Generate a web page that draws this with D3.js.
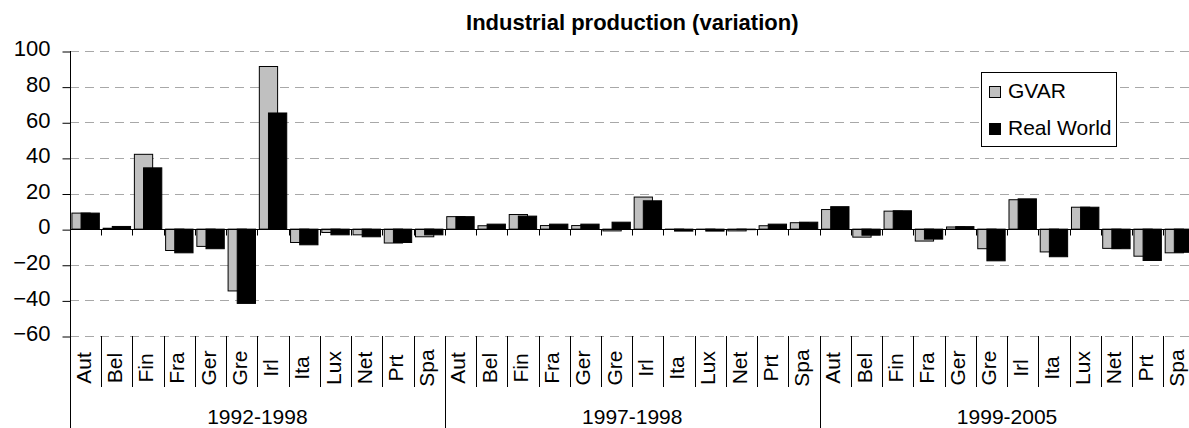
<!DOCTYPE html>
<html>
<head>
<meta charset="utf-8">
<script src="https://cdn.jsdelivr.net/npm/d3@7"></script>
<style>
  html, body { margin: 0; padding: 0; background: #fff; }
  svg { display: block; font-family: "Liberation Sans", Arial, sans-serif; }
</style>
</head>
<body>
<svg id="chart" width="1189" height="428"></svg>
<script>
// ---- data ----
const countries = ["Aut","Bel","Fin","Fra","Ger","Gre","Irl","Ita","Lux","Net","Prt","Spa"];
const periods = ["1992-1998","1997-1998","1999-2005"];
const seriesNames = ["GVAR","Real World"];
const gvar1992 = [9, 0.5, 42, -12, -9.7, -34.7, 91.3, -7.5, -1.9, -3.2, -7.8, -4.3];
const rw1992   = [9, 1.5, 34.4, -13.3, -11, -41.7, 65.2, -8.8, -3.2, -4.3, -7.5, -3.2];
const gvar1997 = [7, 1.9, 8.2, 2, 2, -1, 18, -0.2, -0.2, -1, 1.9, 3.6];
const rw1997   = [7, 2.8, 7.3, 2.8, 2.8, 3.9, 15.9, -1.1, -1.1, -0.3, 2.8, 3.9];
const gvar1999 = [11, -4.5, 10.1, -6.7, 1.2, -11, 16.5, -12.8, 12.3, -10.8, -15.2, -13.3];
const rw1999   = [12.6, -3.4, 10.3, -5.6, 1.4, -17.8, 17, -15.5, 12.3, -11, -17.6, -13];
const yTicks = [-60, -40, -20, 0, 20, 40, 60, 80, 100];
const title = "Industrial production (variation)";

(function () {
const gvarByPeriod = [gvar1992, gvar1997, gvar1999];
const rwByPeriod = [rw1992, rw1997, rw1999];

// flatten
const rows = [];
periods.forEach((p, pi) => {
  countries.forEach((c, ci) => {
    rows.push({ key: pi + "-" + ci, period: p, pi, country: c, gvar: gvarByPeriod[pi][ci], rw: rwByPeriod[pi][ci] });
  });
});

// ---- layout ----
const svg = d3.select("#chart");
const pLeft = 70, pRight = 1194.5, pTop = 51, pBottom = 336;
const x = d3.scaleBand().domain(rows.map(d => d.key)).range([pLeft, pRight]).paddingInner(0).paddingOuter(0);
const y = d3.scaleLinear().domain([-60, 100]).range([pBottom, pTop]);
const step = x.step();
const bw = step * 0.585;
const grayOff = (step - 1.5 * bw) / 2;
const grayColor = "#c0c0c0";

// gridlines
svg.append("g").selectAll("line").data(yTicks.filter(t => t !== 0)).join("line")
  .attr("x1", pLeft).attr("x2", 1189)
  .attr("y1", d => Math.round(y(d)) + 0.5).attr("y2", d => Math.round(y(d)) + 0.5)
  .attr("stroke", "#a8a8a8").attr("stroke-width", 1).attr("stroke-dasharray", "9,6");

// y axis
const yAxis = d3.axisLeft(y).tickValues(yTicks).tickSize(8).tickPadding(12).tickFormat(d3.format("d"));
const yg = svg.append("g").attr("transform", `translate(${pLeft + 0.5},0)`).call(yAxis);
yg.select(".domain").remove();
yg.selectAll(".tick line").attr("stroke", "#000").attr("transform", "translate(0,0.5)");
yg.selectAll(".tick text").attr("font-size", 22).attr("fill", "#000").attr("dy", "0.22em")
  .attr("font-family", "'Liberation Sans', Arial, sans-serif");

// bars
const bars = svg.append("g");
bars.selectAll("rect.g").data(rows).join("rect").attr("class", "g")
  .attr("x", d => x(d.key) + grayOff)
  .attr("width", bw)
  .attr("y", d => Math.min(y(d.gvar), y(0)))
  .attr("height", d => Math.abs(y(d.gvar) - y(0)))
  .attr("fill", grayColor).attr("stroke", "#000").attr("stroke-width", 1);
bars.selectAll("rect.r").data(rows).join("rect").attr("class", "r")
  .attr("x", d => x(d.key) + grayOff + bw / 2)
  .attr("width", bw)
  .attr("y", d => Math.min(y(d.rw), y(0)))
  .attr("height", d => Math.abs(y(d.rw) - y(0)))
  .attr("fill", "#000").attr("stroke", "#000").attr("stroke-width", 1);

// zero axis line + ticks
const y0 = Math.round(y(0)) + 0.5;
svg.append("line").attr("x1", pLeft).attr("x2", 1189).attr("y1", y0).attr("y2", y0)
  .attr("stroke", "#000").attr("stroke-width", 1);
const boundaries = d3.range(1, rows.length).map(i => x(rows[i].key));
svg.append("g").selectAll("line").data(boundaries).join("line")
  .attr("x1", d => Math.round(d) + 0.5).attr("x2", d => Math.round(d) + 0.5)
  .attr("y1", y0).attr("y2", y0 + 6)
  .attr("stroke", "#000");

// vertical axis line (full height)
svg.append("line").attr("x1", pLeft + 0.5).attr("x2", pLeft + 0.5).attr("y1", pTop).attr("y2", 428)
  .attr("stroke", "#000");

// category separators
svg.append("g").selectAll("line").data(d3.range(1, rows.length)).join("line")
  .attr("x1", i => Math.round(x(rows[i].key)) + 0.5).attr("x2", i => Math.round(x(rows[i].key)) + 0.5)
  .attr("y1", pBottom).attr("y2", i => (i % countries.length === 0) ? 428 : 387)
  .attr("stroke", "#000");

// category labels
svg.append("g").selectAll("text").data(rows).join("text")
  .attr("transform", d => `translate(${x(d.key) + step / 2 + 5},368) rotate(-90)`)
  .attr("text-anchor", "middle").attr("font-size", 21).attr("fill", "#000")
  .text(d => d.country);

// period labels
svg.append("g").selectAll("text").data(periods).join("text")
  .attr("x", (p, pi) => (x(pi + "-0") + x(pi + "-" + (countries.length - 1)) + step) / 2)
  .attr("y", 424).attr("text-anchor", "middle").attr("font-size", 21).attr("fill", "#000")
  .text(p => p);

// title
svg.append("text").attr("x", (pLeft + pRight) / 2).attr("y", 30).attr("text-anchor", "middle")
  .attr("font-size", 22).attr("font-weight", "bold").attr("fill", "#000").text(title);

// legend
const lg = svg.append("g");
lg.append("rect").attr("x", 981.5).attr("y", 72.5).attr("width", 135).attr("height", 74)
  .attr("fill", "#fff").attr("stroke", "#000");
const legendColors = [grayColor, "#000"];
const legendY = [86.5, 123.5];
seriesNames.forEach((s, i) => {
  lg.append("rect").attr("x", 989.5).attr("y", legendY[i]).attr("width", 11).attr("height", 11)
    .attr("fill", legendColors[i]).attr("stroke", "#000");
  lg.append("text").attr("x", 1008).attr("y", legendY[i] + 11.8).attr("font-size", 21).attr("fill", "#000").text(s);
});
})();
</script>
</body>
</html>
